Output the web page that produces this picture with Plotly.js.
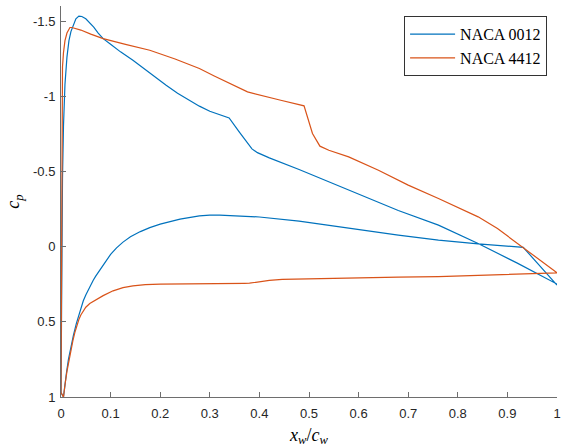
<!DOCTYPE html>
<html>
<head>
<meta charset="utf-8">
<script src="https://cdn.plot.ly/plotly-3.0.1.min.js"></script>
<style>html,body{margin:0;padding:0;background:#fff;}#chart{width:561px;height:448px;}</style>
</head>
<body>
<div id="chart"></div>
<script>
// NACA 0012 – upper surface (LE -> TE)
const x0012Upper = [0, 0.001, 0.002, 0.003, 0.005, 0.008, 0.012, 0.016, 0.02, 0.025, 0.03, 0.036, 0.042, 0.05, 0.058, 0.066, 0.075, 0.085, 0.1, 0.12, 0.145, 0.17, 0.19, 0.212, 0.235, 0.26, 0.279, 0.3, 0.32, 0.339, 0.36, 0.375, 0.385, 0.396, 0.42, 0.48, 0.68, 0.761, 0.841, 0.92, 1.0];
const cp0012Upper = [0.97, 0.4, -0.1, -0.45, -0.8, -1.08, -1.26, -1.37, -1.43, -1.48, -1.515, -1.533, -1.53, -1.515, -1.49, -1.46, -1.42, -1.383, -1.345, -1.295, -1.239, -1.175, -1.125, -1.073, -1.02, -0.97, -0.934, -0.9, -0.875, -0.856, -0.76, -0.69, -0.65, -0.625, -0.59, -0.513, -0.24, -0.143, -0.021, 0.11, 0.249];
// NACA 0012 – lower surface (LE -> TE)
const x0012Lower = [0.005, 0.008, 0.011, 0.015, 0.02, 0.025, 0.031, 0.038, 0.045, 0.05, 0.055, 0.06, 0.065, 0.07, 0.078, 0.09, 0.1, 0.112, 0.125, 0.14, 0.16, 0.179, 0.2, 0.24, 0.279, 0.3, 0.32, 0.35, 0.4, 0.48, 0.58, 0.68, 0.761, 0.841, 0.932, 1.0];
const cp0012Lower = [1.0, 0.92, 0.84, 0.75, 0.66, 0.59, 0.51, 0.43, 0.36, 0.322, 0.287, 0.254, 0.224, 0.196, 0.155, 0.1, 0.052, 0.008, -0.03, -0.065, -0.1, -0.126, -0.15, -0.183, -0.205, -0.209, -0.21, -0.207, -0.197, -0.169, -0.122, -0.076, -0.043, -0.018, 0.005, 0.256];

// NACA 4412 – upper surface (LE -> TE)
const x4412Upper = [0, 0.0005, 0.001, 0.0015, 0.003, 0.005, 0.008, 0.012, 0.015, 0.018, 0.022, 0.03, 0.04, 0.06, 0.085, 0.13, 0.179, 0.23, 0.279, 0.309, 0.339, 0.376, 0.443, 0.49, 0.507, 0.522, 0.54, 0.58, 0.64, 0.70, 0.761, 0.8, 0.841, 0.88, 0.93, 1.0];
const cp4412Upper = [0.97, 0.5, 0.0, -0.6, -1.195, -1.29, -1.37, -1.42, -1.445, -1.457, -1.457, -1.45, -1.44, -1.413, -1.383, -1.345, -1.306, -1.248, -1.184, -1.135, -1.088, -1.029, -0.973, -0.936, -0.752, -0.668, -0.641, -0.597, -0.508, -0.409, -0.32, -0.26, -0.198, -0.12, 0.003, 0.174];
// NACA 4412 – lower surface (LE -> TE)
const x4412Lower = [0.005, 0.008, 0.012, 0.016, 0.02, 0.024, 0.028, 0.032, 0.036, 0.04, 0.045, 0.05, 0.058, 0.065, 0.072, 0.085, 0.105, 0.125, 0.145, 0.17, 0.2, 0.279, 0.37, 0.38, 0.4, 0.42, 0.446, 0.5, 0.6, 0.68, 0.761, 0.88, 1.0];
const cp4412Lower = [1.0, 0.92, 0.83, 0.76, 0.69, 0.625, 0.57, 0.525, 0.485, 0.455, 0.425, 0.403, 0.378, 0.362, 0.349, 0.326, 0.294, 0.273, 0.261, 0.253, 0.249, 0.245, 0.244, 0.243, 0.235, 0.225, 0.218, 0.215, 0.209, 0.203, 0.2, 0.188, 0.174];

const seriesNames = ['NACA 0012', 'NACA 4412'];
const seriesColors = ['#0072BD', '#D95319'];

const xTickVals = [0, 0.1, 0.2, 0.3, 0.4, 0.5, 0.6, 0.7, 0.8, 0.9, 1];
const xTickText = ['0', '0.1', '0.2', '0.3', '0.4', '0.5', '0.6', '0.7', '0.8', '0.9', '1'];
const yTickVals = [-1.5, -1, -0.5, 0, 0.5, 1];
const yTickText = ['-1.5', '-1', '-0.5', '0', '0.5', '1'];

function loop(xu, cu, xl, cl) {
  // TE lower -> LE -> TE upper
  return {
    x: xl.slice().reverse().concat(xu),
    y: cl.slice().reverse().concat(cu)
  };
}

const a = loop(x0012Upper, cp0012Upper, x0012Lower, cp0012Lower);
const b = loop(x4412Upper, cp4412Upper, x4412Lower, cp4412Lower);

const traces = [
  {x: a.x, y: a.y, type: 'scatter', mode: 'lines', name: seriesNames[0], line: {color: seriesColors[0], width: 1.2}},
  {x: b.x, y: b.y, type: 'scatter', mode: 'lines', name: seriesNames[1], line: {color: seriesColors[1], width: 1.2}}
];

const axisColor = 'rgb(110,110,110)';
const layout = {
  width: 561, height: 448,
  margin: {l: 61, r: 4, t: 6, b: 51},
  paper_bgcolor: '#fff', plot_bgcolor: '#fff',
  font: {family: 'Liberation Sans, Arial, sans-serif', size: 13, color: '#262626'},
  showlegend: true,
  legend: {
    x: 0.98, y: 0.974, xanchor: 'right', yanchor: 'top',
    bgcolor: '#fff', bordercolor: '#333', borderwidth: 1,
    font: {family: 'Liberation Serif, serif', size: 16, color: '#000'},
    itemwidth: 45,
    tracegroupgap: 0
  },
  xaxis: {
    range: [0, 1], tickmode: 'array', tickvals: xTickVals, ticktext: xTickText,
    ticks: 'inside', ticklen: 5, tickcolor: axisColor, showline: true, linecolor: axisColor, linewidth: 1,
    showgrid: false, zeroline: false, mirror: false, ticklabeloverflow: 'allow', ticklabelstandoff: 4,
    title: {text: '<i>x<sub>w</sub></i>/<i>c<sub>w</sub></i>', font: {family: 'Liberation Serif, serif', size: 18, color: '#000'}, standoff: 8}
  },
  yaxis: {
    range: [1, -1.6], tickmode: 'array', tickvals: yTickVals, ticktext: yTickText,
    ticks: 'inside', ticklen: 5, tickcolor: axisColor, showline: true, linecolor: axisColor, linewidth: 1,
    showgrid: false, zeroline: false, mirror: false, ticklabeloverflow: 'allow', ticklabelstandoff: 2,
    title: {text: '<i>c<sub>p</sub></i>', font: {family: 'Liberation Serif, serif', size: 18, color: '#000'}, standoff: 8}
  }
};

Plotly.newPlot('chart', traces, layout, {staticPlot: true, displayModeBar: false});
</script>
</body>
</html>
